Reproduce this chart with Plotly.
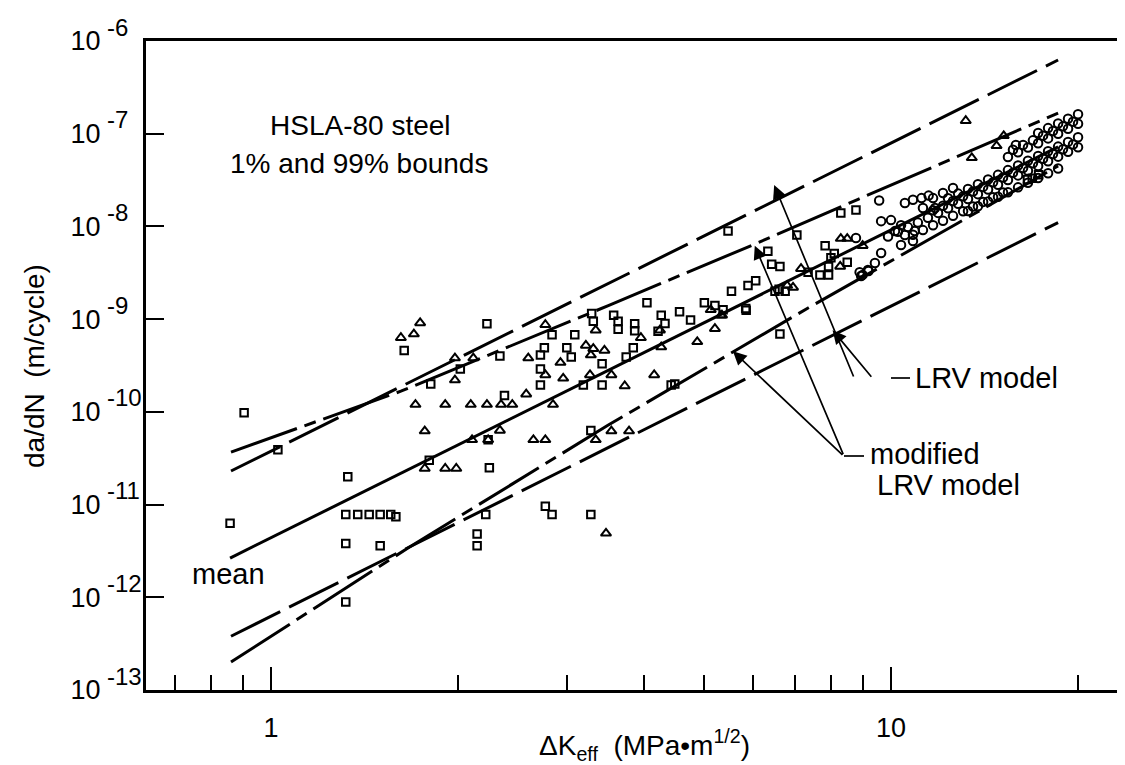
import math
import plotly.graph_objects as go

# ---------------- data ----------------
sq_x = [0.905, 1.026, 1.33, 0.859, 1.32, 1.38, 1.44, 1.50, 1.56, 1.59, 1.32, 1.50, 1.32,
        1.64, 1.81, 1.80, 2.23, 2.02, 2.34, 2.38, 2.24, 3.28, 3.29, 3.31, 2.84, 3.09,
        2.76, 2.72, 3.0, 3.05, 2.72, 2.72, 3.19, 3.42, 3.42, 3.57, 3.63, 3.63, 3.86, 3.86,
        4.26, 4.32, 4.56, 4.75, 5.84, 3.84, 3.74, 4.42, 4.48, 6.62, 2.25, 2.22, 2.77, 2.84,
        3.28, 2.15, 2.15, 5.46, 7.05, 8.3, 8.78, 6.33, 6.42, 6.62, 7.83, 7.68, 7.93, 7.93,
        7.35, 8.5, 8.1, 8.0, 5.53, 5.88, 6.05, 5.83, 6.5, 6.75, 6.6, 4.04, 5.0, 5.2, 5.36,
        4.21, 16.6, 17.3, 16.9]
sq_y = [9.8e-11, 3.9e-11, 2.0e-11, 6.3e-12, 7.8e-12, 7.8e-12, 7.8e-12, 7.8e-12, 7.8e-12, 7.4e-12,
        3.8e-12, 3.6e-12, 8.9e-13, 4.6e-10, 2.0e-10, 3.0e-11, 8.9e-10, 2.9e-10, 4.0e-10, 1.5e-10,
        5.0e-11, 6.3e-11, 1.15e-9, 9.5e-10, 6.8e-10, 6.8e-10, 4.9e-10, 4.1e-10, 4.9e-10, 3.9e-10,
        2.9e-10, 1.95e-10, 1.95e-10, 1.95e-10, 3.3e-10, 1.1e-9, 9.5e-10, 7.8e-10, 8.9e-10, 7.5e-10,
        1.1e-9, 9.0e-10, 1.2e-9, 9.8e-10, 1.25e-9, 4.9e-10, 3.9e-10, 1.95e-10, 2.0e-10, 6.9e-10,
        2.5e-11, 7.8e-12, 9.6e-12, 7.8e-12, 7.8e-12, 4.8e-12, 3.6e-12, 8.9e-9, 8.1e-9, 1.4e-8,
        1.5e-8, 5.4e-9, 3.9e-9, 3.7e-9, 6.2e-9, 3.0e-9, 3.0e-9, 3.7e-9, 3.2e-9, 4.1e-9, 5.1e-9,
        4.6e-9, 2.0e-9, 2.3e-9, 2.6e-9, 1.3e-9, 2.0e-9, 2.0e-9, 2.1e-9, 1.5e-9, 1.5e-9, 1.4e-9,
        1.26e-9, 7.4e-10, 3.2e-8, 3.6e-8, 3.3e-8]

tri_x = [1.62, 1.70, 1.74, 1.98, 1.98, 1.71, 1.91, 2.10, 2.23, 2.35, 2.45, 1.77, 1.77, 1.91,
         1.99, 2.12, 2.58, 2.85, 2.11, 2.24, 2.34, 2.65, 2.77, 3.34, 3.34, 2.77, 2.6, 2.93,
         2.77, 2.96, 3.22, 3.31, 3.28, 3.27, 3.45, 3.95, 4.26, 4.24, 4.87, 5.32, 5.20, 3.54,
         3.72, 4.15, 3.54, 3.78, 3.47, 5.12, 5.34, 7.16, 8.3, 8.5, 9.0, 8.28, 6.8, 6.95,
         13.2, 14.8, 15.2, 13.5]
tri_y = [6.3e-10, 6.9e-10, 9.1e-10, 3.8e-10, 2.2e-10, 1.2e-10, 1.2e-10, 1.2e-10, 1.2e-10, 1.2e-10,
         1.2e-10, 6.2e-11, 2.45e-11, 2.45e-11, 2.45e-11, 3.8e-10, 1.55e-10, 1.2e-10, 5.0e-11, 5.0e-11,
         6.3e-11, 5.0e-11, 5.0e-11, 5.0e-11, 7.6e-10, 8.7e-10, 3.8e-10, 3.4e-10, 2.5e-10, 2.3e-10,
         5.2e-10, 4.8e-10, 4.1e-10, 2.5e-10, 4.6e-10, 6.3e-10, 5.0e-10, 7.6e-10, 5.7e-10, 1.1e-9,
         7.9e-10, 2.5e-10, 1.9e-10, 2.5e-10, 6.2e-11, 6.2e-11, 4.9e-12, 1.26e-9, 1.1e-9, 3.5e-9,
         7.4e-9, 7.4e-9, 6.2e-9, 3.7e-9, 2.3e-9, 2.2e-9, 1.38e-7, 7.4e-8, 9.5e-8, 5.5e-8]

circ_x = [17.27, 17.92, 18.60, 19.30, 20.03,
          15.73, 16.33, 16.94, 17.59, 18.25, 18.94, 19.66,
          15.44, 16.03, 16.63, 17.27, 17.92, 18.60, 19.30, 20.03,
          12.36, 12.83, 13.31, 13.81, 14.34, 14.88, 15.44, 16.03, 16.63, 17.27, 17.92, 18.60, 19.30, 20.03,
          11.69, 12.13, 12.59, 13.07, 13.56, 14.08, 14.61, 15.16, 15.73, 16.33, 16.94, 17.59, 18.25,
          18.94, 19.66,
          9.89, 10.26, 10.65, 11.05, 11.47, 11.91, 12.36, 12.83, 13.31, 13.81, 14.34, 14.88, 15.44,
          16.03, 16.63, 17.27, 17.92, 18.60, 19.30, 20.03,
          10.85, 11.26, 11.69, 12.13, 12.59, 13.07, 13.56, 14.08, 14.61, 15.16,
          13.31, 13.81, 14.34, 14.88, 15.44, 16.03, 16.63, 17.27, 17.92, 18.60,
          9.57, 9.64, 10.0, 10.38, 10.15, 10.53, 10.92, 10.38, 10.85, 9.64, 9.42, 9.18, 8.95,
          8.78, 8.9, 9.0, 9.2, 10.53, 10.85, 11.2, 11.5, 11.78, 15.9,
          11.26, 11.69, 12.13, 12.59]
circ_y = [1.02e-7, 1.15e-7, 1.29e-7, 1.45e-7, 1.62e-7,
          6.71e-8, 7.54e-8, 8.48e-8, 9.53e-8, 1.07e-7, 1.20e-7, 1.35e-7,
          5.6e-8, 6.3e-8, 7.1e-8, 7.9e-8, 8.9e-8, 1.0e-7, 1.13e-7, 1.28e-7,
          2.01e-8, 2.26e-8, 2.54e-8, 2.85e-8, 3.21e-8, 3.60e-8, 4.05e-8, 4.55e-8, 5.11e-8, 5.75e-8,
          6.46e-8, 7.26e-8, 8.16e-8, 9.17e-8,
          1.49e-8, 1.67e-8, 1.88e-8, 2.11e-8, 2.38e-8, 2.67e-8, 3.00e-8, 3.37e-8, 3.79e-8, 4.26e-8,
          4.79e-8, 5.38e-8, 6.05e-8, 6.80e-8, 7.64e-8,
          7.78e-9, 8.75e-9, 9.83e-9, 1.10e-8, 1.24e-8, 1.40e-8, 1.57e-8, 1.76e-8, 1.98e-8, 2.23e-8,
          2.50e-8, 2.81e-8, 3.16e-8, 3.55e-8, 3.99e-8, 4.48e-8, 5.04e-8, 5.66e-8, 6.37e-8, 7.15e-8,
          8.13e-9, 9.13e-9, 1.03e-8, 1.15e-8, 1.30e-8, 1.46e-8, 1.64e-8, 1.84e-8, 2.07e-8, 2.32e-8,
          1.47e-8, 1.65e-8, 1.86e-8, 2.09e-8, 2.34e-8, 2.64e-8, 2.96e-8, 3.33e-8, 3.74e-8, 4.21e-8,
          1.9e-8, 1.14e-8, 1.17e-8, 1.03e-8, 8.9e-9, 8.07e-9, 8.9e-9, 6.3e-9, 6.96e-9, 5.16e-9,
          4.03e-9, 3.39e-9, 2.92e-9, 7.5e-9, 3.2e-9, 3.0e-9, 3.3e-9, 1.79e-8, 1.94e-8, 2.02e-8,
          2.15e-8, 1.58e-8, 7.55e-8,
          1.58e-8, 2.02e-8, 2.29e-8, 2.60e-8]

mean_x = [0.859, 18.6]
mean_y = [2.65e-12, 7.2e-8]
lrv_up_x = [0.862, 18.6]
lrv_up_y = [2.3e-11, 6.24e-7]
lrv_lo_x = [0.862, 18.6]
lrv_lo_y = [3.8e-13, 1.1e-8]
mod_up_x = [0.862, 1.62, 3.5, 6.03, 8.85, 13.31, 18.6]
mod_up_y = [3.68e-11, 1.67e-10, 1.4e-9, 6.45e-9, 1.96e-8, 6.4e-8, 1.67e-7]
mod_lo_x = [0.862, 1.663, 3.50, 7.35, 12.83, 18.6]
mod_lo_y = [2.0e-13, 3.4e-12, 7.2e-11, 1.32e-9, 1.09e-8, 4.5e-8]

y_tick_vals = [1e-13, 1e-12, 1e-11, 1e-10, 1e-9, 1e-8, 1e-7, 1e-6]
y_tick_base = ["10"] * 8
y_tick_exp = ["-13", "-12", "-11", "-10", "-9", "-8", "-7", "-6"]
x_major = [1, 10]
x_major_text = ["1", "10"]
x_minor = [0.7, 0.8, 0.9, 2, 3, 4, 5, 6, 7, 8, 9, 20]

# arrow tips (data) on the bound lines
lrv_tips = [(6.48, 2.8e-8), (8.05, 7.6e-10)]
mod_tips = [(6.03, 6.2e-9), (5.56, 4.5e-10)]

FONT = "Liberation Sans, Arial, Helvetica, sans-serif"
L, R, T, B = 138, 2, 33, 83
PW, PH = 1125 - L - R, 765 - T - B

fig = go.Figure()
mk_line = dict(color="black", width=2)
fig.add_trace(go.Scatter(x=sq_x, y=sq_y, mode="markers",
                         marker=dict(symbol="square-open", size=7.5, color="black", line=mk_line)))
fig.add_trace(go.Scatter(x=tri_x, y=tri_y, mode="markers",
                         marker=dict(symbol="triangle-up-open", size=9, color="black", line=mk_line)))
fig.add_trace(go.Scatter(x=circ_x, y=circ_y, mode="markers",
                         marker=dict(symbol="circle-open", size=8.5, color="black", line=mk_line)))

fig.add_trace(go.Scatter(x=mean_x, y=mean_y, mode="lines", line=dict(color="black", width=3)))
for xs, ys in [(lrv_up_x, lrv_up_y), (lrv_lo_x, lrv_lo_y)]:
    fig.add_trace(go.Scatter(x=xs, y=ys, mode="lines",
                             line=dict(color="black", width=3, dash="55px,10px")))
for xs, ys in [(mod_up_x, mod_up_y), (mod_lo_x, mod_lo_y)]:
    fig.add_trace(go.Scatter(x=xs, y=ys, mode="lines",
                             line=dict(color="black", width=3, dash="70px,8px,12px,8px")))

fig.update_layout(
    width=1125, height=765,
    margin=dict(l=L, r=R, t=T, b=B, autoexpand=False),
    paper_bgcolor="white", plot_bgcolor="white",
    showlegend=False,
    font=dict(family=FONT, size=26, color="black"),
    xaxis=dict(type="log", range=[-0.2016, 1.3871], showgrid=False, zeroline=False,
               automargin=False,
               showline=True, linewidth=3, linecolor="black", mirror=True,
               ticks="inside", ticklen=23, tickwidth=2, tickcolor="black",
               tickvals=x_major, ticktext=x_major_text, tickfont=dict(size=27),
               ticklabelstandoff=12,
               minor=dict(tickvals=x_minor, ticks="inside", ticklen=15, tickwidth=2,
                          tickcolor="black", showgrid=False)),
    yaxis=dict(type="log", range=[-13, -6], showgrid=False, zeroline=False,
               automargin=False,
               showline=True, linewidth=3, linecolor="black", mirror=False,
               ticks="inside", ticklen=18, tickwidth=2, tickcolor="black",
               tickvals=y_tick_vals, ticktext=y_tick_base, tickfont=dict(size=27),
               ticklabelstandoff=37),
)

# exponents of the y tick labels
for v, e in zip(y_tick_vals, y_tick_exp):
    fig.add_annotation(text=e, xref="paper", yref="y", x=(97 - L) / PW, y=math.log10(v),
                       xanchor="left", yanchor="middle", yshift=14, showarrow=False,
                       font=dict(family=FONT, size=24, color="black"))

def ann(text, px, py, size=29, xanchor="center", yanchor="middle", angle=0):
    fig.add_annotation(text=text, xref="paper", yref="paper",
                       x=(px - L) / PW, y=(765 - B - py) / PH,
                       xanchor=xanchor, yanchor=yanchor, showarrow=False,
                       textangle=angle, font=dict(family=FONT, size=size, color="black"))

ann("HSLA-80 steel", 352, 117, size=28)
ann("1% and 99% bounds", 351, 155, size=28)
ann("mean", 220, 566)
ann("LRV model", 905, 370, xanchor="left")
ann("modified", 860, 446, xanchor="left")
ann("LRV model", 867, 477, xanchor="left")
ann("da/dN  (m/cycle)", 26, 358, size=28, angle=-90)
ann("ΔK<sub>eff</sub>  (MPa•m<sup>1/2</sup>)", 636, 759, size=28, yanchor="bottom")

# arrows
for (tx, ty), (ax, ay) in zip(lrv_tips, [(80, 193), (40, 48)]):
    fig.add_annotation(x=math.log10(tx), y=math.log10(ty), xref="x", yref="y", text="",
                       showarrow=True, ax=ax, ay=ay, arrowhead=2, arrowsize=1.6,
                       arrowwidth=1.7, arrowcolor="black", standoff=0)
for (tx, ty), (ax, ay) in zip(mod_tips, [(89, 210), (111, 105)]):
    fig.add_annotation(x=math.log10(tx), y=math.log10(ty), xref="x", yref="y", text="",
                       showarrow=True, ax=ax, ay=ay, arrowhead=2, arrowsize=1.6,
                       arrowwidth=1.7, arrowcolor="black", standoff=0)

def hline(px0, px1, py):
    fig.add_shape(type="line", xref="paper", yref="paper",
                  x0=(px0 - L) / PW, x1=(px1 - L) / PW,
                  y0=(765 - B - py) / PH, y1=(765 - B - py) / PH,
                  line=dict(color="black", width=1.7))

hline(883, 902, 370)
hline(836, 856, 448)

fig.write_html("out.html")
